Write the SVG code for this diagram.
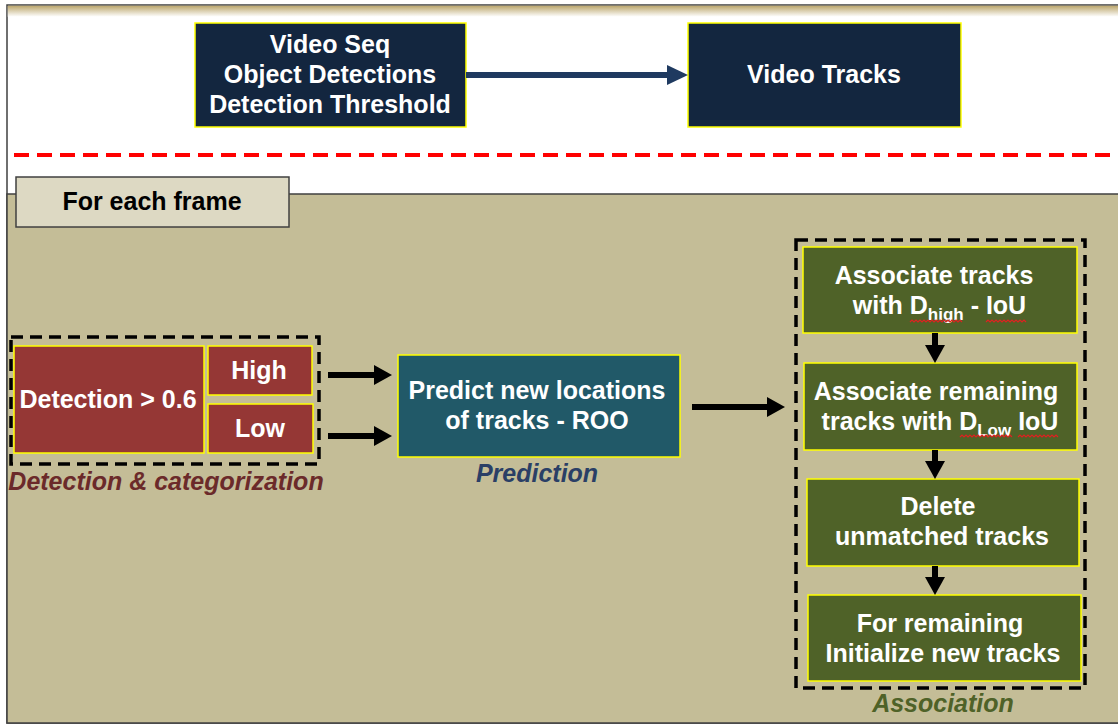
<svg xmlns="http://www.w3.org/2000/svg" width="1118" height="725" viewBox="0 0 1118 725">
<defs>
<style>
.t{font-family:"Liberation Sans",Arial,Helvetica,sans-serif;font-weight:bold;font-size:25px;fill:#FFFFFF;text-anchor:middle}
.cap{font-family:"Liberation Sans",Arial,Helvetica,sans-serif;font-weight:bold;font-style:italic;font-size:25px;text-anchor:middle}
.box{stroke:#FFFF00;stroke-width:1.5}
.navy{fill:#13263F}
.red{fill:#953735}
.teal{fill:#215968}
.green{fill:#4F6228}
.dash{fill:none;stroke:#000000;stroke-width:3.5;stroke-dasharray:12 7}
.arr{stroke:#000000;stroke-width:6;fill:none}
.sq{fill:none;stroke:#E02020;stroke-width:1.2}
</style>
<linearGradient id="topg" x1="0" y1="0" x2="0" y2="1">
<stop offset="0" stop-color="#BBA66C"/>
<stop offset="1" stop-color="#FFFFFF"/>
</linearGradient>
<marker id="hb" markerUnits="userSpaceOnUse" markerWidth="18" markerHeight="20" refX="2" refY="10" orient="auto" viewBox="0 0 18 20">
<path d="M0,0 L18,10 L0,20 z" fill="#000000"/>
</marker>
<marker id="hn" markerUnits="userSpaceOnUse" markerWidth="21" markerHeight="20" refX="2" refY="10" orient="auto" viewBox="0 0 21 20">
<path d="M0,0 L21,10 L0,20 z" fill="#1F3A60"/>
</marker>
</defs>

<rect x="0" y="0" width="1118" height="725" fill="#FFFFFF"/>
<rect x="7" y="5" width="1125" height="718" fill="#FFFFFF" stroke="#404040" stroke-width="1.5"/>
<rect x="7.75" y="5.75" width="1112" height="11" fill="url(#topg)"/>
<rect id="frame-area" x="7" y="194" width="1125" height="529" fill="#C4BD97" stroke="#404040" stroke-width="1.5"/>
<line x1="14" y1="155" x2="1118" y2="155" stroke="#FF0000" stroke-width="4" stroke-dasharray="15 8"/>

<g id="for-each-frame">
<rect x="16" y="177" width="273" height="50" fill="#DDD9C3" stroke="#404040" stroke-width="1.5"/>
<text class="t" x="152" y="210" style="fill:#000000">For each frame</text>
</g>

<g id="input">
<rect class="box navy" x="195" y="23" width="271" height="104"/>
<text class="t" x="330" y="53">Video Seq</text>
<text class="t" x="330" y="83">Object Detections</text>
<text class="t" x="330" y="113">Detection Threshold</text>
</g>

<g id="output">
<rect class="box navy" x="688" y="23" width="273" height="104"/>
<text class="t" x="824" y="83">Video Tracks</text>
</g>

<g id="detection-group">
<rect class="dash" x="11" y="337" width="308" height="127"/>
<text class="cap" x="166" y="490" style="fill:#6B2A2A">Detection &amp; categorization</text>
</g>
<g id="detection">
<rect class="box red" x="14" y="346" width="190" height="107"/>
<text class="t" x="108" y="408">Detection &gt; 0.6</text>
</g>
<g id="high">
<rect class="box red" x="208" y="346" width="104" height="49"/>
<text class="t" x="259" y="379">High</text>
</g>
<g id="low">
<rect class="box red" x="208" y="404" width="105" height="49"/>
<text class="t" x="260" y="437">Low</text>
</g>

<g id="prediction">
<rect class="box teal" x="398" y="355" width="282" height="102"/>
<text class="t" x="537" y="399">Predict new locations</text>
<text class="t" x="537" y="429">of tracks - ROO</text>
<text class="cap" x="537" y="482" style="fill:#2A3F66">Prediction</text>
</g>

<g id="association-group">
<rect class="dash" x="796" y="240" width="289" height="448"/>
<text class="cap" x="943" y="712" style="fill:#4F6228">Association</text>
</g>
<g id="assoc-high">
<rect class="box green" x="803" y="247" width="274" height="86"/>
<text class="t" x="934" y="284">Associate tracks</text>
<text class="t" x="939.5" y="314">with D<tspan font-size="17" dy="6">high</tspan><tspan dy="-6"> - IoU</tspan></text>
<path class="sq" d="M910,322 l2,-2 l2,2 l2,-2 l2,2 l2,-2 l2,2 l2,-2 l2,2 l2,-2 l2,2 l2,-2 l2,2 l2,-2 l2,2 l2,-2 l2,2 l2,-2 l2,2 l2,-2 l2,2 l2,-2 l2,2 l2,-2 l2,2 l2,-2 l2,2"/>
<path class="sq" d="M986,322 l2,-2 l2,2 l2,-2 l2,2 l2,-2 l2,2 l2,-2 l2,2 l2,-2 l2,2 l2,-2 l2,2 l2,-2 l2,2 l2,-2 l2,2 l2,-2 l2,2 l2,-2 l2,2"/>
</g>
<g id="assoc-low">
<rect class="box green" x="804" y="363" width="273" height="87"/>
<text class="t" x="936" y="400">Associate remaining</text>
<text class="t" x="940" y="430">tracks with D<tspan font-size="17" dy="6">Low</tspan><tspan dy="-6"> IoU</tspan></text>
<path class="sq" d="M960,437 l2,-2 l2,2 l2,-2 l2,2 l2,-2 l2,2 l2,-2 l2,2 l2,-2 l2,2 l2,-2 l2,2 l2,-2 l2,2 l2,-2 l2,2 l2,-2 l2,2 l2,-2 l2,2 l2,-2 l2,2 l2,-2 l2,2 l2,-2 l2,2"/>
<path class="sq" d="M1018,437 l2,-2 l2,2 l2,-2 l2,2 l2,-2 l2,2 l2,-2 l2,2 l2,-2 l2,2 l2,-2 l2,2 l2,-2 l2,2 l2,-2 l2,2 l2,-2 l2,2 l2,-2 l2,2"/>
</g>
<g id="delete">
<rect class="box green" x="807" y="479" width="272" height="87"/>
<text class="t" x="938" y="515">Delete</text>
<text class="t" x="942" y="545">unmatched tracks</text>
</g>
<g id="init">
<rect class="box green" x="808" y="595" width="273" height="86"/>
<text class="t" x="940" y="632">For remaining</text>
<text class="t" x="943" y="662">Initialize new tracks</text>
</g>

<g id="connectors">
<line x1="466" y1="75" x2="669" y2="75" stroke="#1F3A60" stroke-width="6" marker-end="url(#hn)"/>
<line class="arr" x1="328" y1="375" x2="376" y2="375" marker-end="url(#hb)"/>
<line class="arr" x1="328" y1="436" x2="376" y2="436" marker-end="url(#hb)"/>
<line class="arr" x1="692" y1="407" x2="769" y2="407" marker-end="url(#hb)"/>
<line class="arr" x1="935" y1="333" x2="935" y2="347" marker-end="url(#hb)"/>
<line class="arr" x1="935" y1="450" x2="935" y2="463" marker-end="url(#hb)"/>
<line class="arr" x1="935" y1="566" x2="935" y2="579" marker-end="url(#hb)"/>
</g>
</svg>
